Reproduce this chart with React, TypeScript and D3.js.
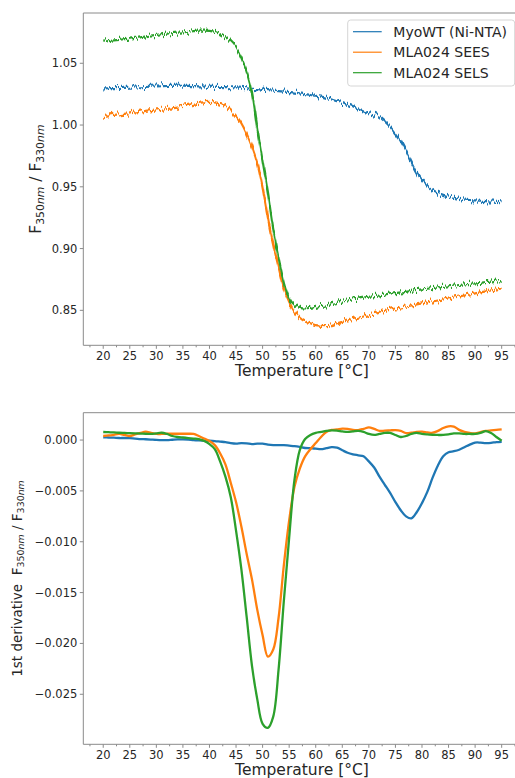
import React from "react";
import * as d3 from "d3";

// temperature grid [°C]
const temps = d3.range(20, 96, 1);

const seriesNames = ["MyoWT (Ni-NTA)", "MLA024 SEES", "MLA024 SELS"];
const colors = ["#1f77b4", "#ff7f0e", "#2ca02c"];

// F350/F330 ratio
const ratioMyoWT = [
  1.0297, 1.0298, 1.0299, 1.03, 1.0301, 1.0302, 1.0304, 1.0306, 1.0308, 1.031,
  1.0312, 1.0314, 1.0316, 1.0317, 1.0318, 1.0318, 1.0317, 1.0315, 1.0313, 1.0312,
  1.031, 1.0309, 1.0308, 1.0307, 1.0306, 1.0305, 1.0302, 1.0298, 1.0294, 1.029,
  1.0287, 1.0283, 1.0279, 1.0275, 1.0271, 1.0267, 1.0263, 1.0257, 1.025, 1.0243,
  1.0237, 1.023, 1.022, 1.0207, 1.0192, 1.0178, 1.0163, 1.0145, 1.0125, 1.011,
  1.0095, 1.0085, 1.0065, 1.003, 0.9986, 0.993, 0.987, 0.979, 0.97, 0.962,
  0.9555, 0.951, 0.9475, 0.9452, 0.9435, 0.9422, 0.941, 0.9403, 0.9397, 0.9393,
  0.939, 0.9387, 0.9384, 0.9381, 0.9378, 0.9375,
];
const ratioSEES = [
  1.0073, 1.0078, 1.0082, 1.0087, 1.0091, 1.0095, 1.0102, 1.0108, 1.0115, 1.0121,
  1.0127, 1.0132, 1.0138, 1.0143, 1.0149, 1.0155, 1.0163, 1.0172, 1.018, 1.0184,
  1.0187, 1.0183, 1.0172, 1.0152, 1.012, 1.0075, 1.0015, 0.993, 0.9824, 0.969,
  0.949, 0.925, 0.9035, 0.885, 0.868, 0.857, 0.849, 0.844, 0.841, 0.8395,
  0.838, 0.8375, 0.8372, 0.838, 0.8395, 0.8407, 0.8418, 0.843, 0.844, 0.845,
  0.846, 0.847, 0.848, 0.8495, 0.8505, 0.8515, 0.8523, 0.8531, 0.854, 0.8548,
  0.8556, 0.8564, 0.8572, 0.858, 0.8588, 0.8596, 0.8604, 0.8612, 0.862, 0.8629,
  0.8637, 0.8645, 0.8653, 0.8661, 0.8669, 0.8677,
];
const ratioSELS = [
  1.0675, 1.068, 1.0685, 1.069, 1.0695, 1.07, 1.0705, 1.071, 1.0718, 1.0725,
  1.073, 1.0735, 1.074, 1.0745, 1.0748, 1.075, 1.0755, 1.076, 1.0765, 1.0765,
  1.0763, 1.0755, 1.0735, 1.071, 1.068, 1.063, 1.0545, 1.043, 1.026, 0.997,
  0.971, 0.945, 0.916, 0.893, 0.873, 0.86, 0.8545, 0.852, 0.8515, 0.852,
  0.8528, 0.8535, 0.854, 0.855, 0.856, 0.857, 0.858, 0.8588, 0.8595, 0.8603,
  0.861, 0.8615, 0.862, 0.8628, 0.8635, 0.864, 0.8645, 0.865, 0.8658, 0.8665,
  0.867, 0.8675, 0.868, 0.8685, 0.869, 0.8695, 0.87, 0.8705, 0.871, 0.8715,
  0.8718, 0.8723, 0.8728, 0.8733, 0.874, 0.8745,
];

// 1st derivative of the ratio
const derivMyoWT = [
  0.00027, 0.00025, 0.00023, 0.0002, 0.0002, 0.00018, 0.00015, 0.0001, 0.00008, 0.00005,
  0.00002, 0.0, 0.0, 0.00003, 0.00006, 0.00007, 0.00005, 0.0, -0.00003, -0.00005,
  -0.00007, -0.0001, -0.00015, -0.0002, -0.0003, -0.00035, -0.0003, -0.00033, -0.0004, -0.00035,
  -0.00035, -0.00045, -0.0005, -0.0005, -0.0005, -0.00055, -0.0006, -0.00068, -0.00078, -0.0008,
  -0.00085, -0.0009, -0.0008, -0.0007, -0.00075, -0.001, -0.00125, -0.0014, -0.0015, -0.0016,
  -0.0021, -0.0027, -0.0036, -0.0044, -0.0052, -0.0061, -0.0069, -0.0075, -0.0077, -0.0071,
  -0.0062, -0.0051, -0.0037, -0.0025, -0.0016, -0.0012, -0.0011, -0.00095, -0.0007, -0.00045,
  -0.00025, -0.00025, -0.0003, -0.00028, -0.0002, -0.00017,
];
const derivSEES = [
  0.0004, 0.00045, 0.00052, 0.0006, 0.0005, 0.0004, 0.00055, 0.0007, 0.00082, 0.0007,
  0.0006, 0.0006, 0.00062, 0.00062, 0.00062, 0.00062, 0.00062, 0.0006, 0.0004, 0.00015,
  -0.0001, -0.0005, -0.0013, -0.0024, -0.0042, -0.0061, -0.0085, -0.0112, -0.0137, -0.0167,
  -0.0192, -0.0213, -0.0206, -0.0175, -0.0123, -0.0079, -0.0046, -0.0028, -0.0016, -0.0009,
  -0.0003, 0.0003, 0.0008, 0.001, 0.00105, 0.00113, 0.0011, 0.001, 0.00098, 0.0011,
  0.00125, 0.0011, 0.0009, 0.00092, 0.00095, 0.00098, 0.0009, 0.00068, 0.00072, 0.0008,
  0.00082, 0.00076, 0.00072, 0.0009, 0.00118, 0.00135, 0.00132, 0.001, 0.0008, 0.0007,
  0.00066, 0.00078, 0.0009, 0.00095, 0.001, 0.00105,
];
const derivSELS = [
  0.00079, 0.00077, 0.00075, 0.00072, 0.0007, 0.00068, 0.00066, 0.00064, 0.00062, 0.0006,
  0.00066, 0.00072, 0.0006, 0.0004, 0.0003, 0.00025, 0.0002, 0.00015, 0.0001, -0.0001,
  -0.0004, -0.0009, -0.0021, -0.0036, -0.0056, -0.0089, -0.0127, -0.0174, -0.0222, -0.0255,
  -0.0279, -0.0283, -0.0272, -0.0226, -0.0158, -0.0096, -0.0039, -0.001, 0.0001, 0.0005,
  0.0007, 0.0008, 0.0009, 0.00095, 0.00092, 0.00085, 0.0008, 0.00085, 0.0009, 0.0008,
  0.0006, 0.0005, 0.0006, 0.0007, 0.0007, 0.0005, 0.0003, 0.0004, 0.0006, 0.0007,
  0.0006, 0.00055, 0.00052, 0.0005, 0.0005, 0.00055, 0.00065, 0.00065, 0.0006, 0.0006,
  0.0006, 0.0007, 0.00088, 0.0007, 0.0003, -0.00007,
];

const xTickLabels = [20, 25, 30, 35, 40, 45, 50, 55, 60, 65, 70, 75, 80, 85, 90, 95];
const xMinorTicks = d3.range(17.5, 98.6, 5);
const ratioTicks = [0.85, 0.9, 0.95, 1.0, 1.05];
const derivTicks = [0.0, -0.005, -0.01, -0.015, -0.02, -0.025];

const W = 515;
const H = 778;
const FONT = "DejaVu Sans, sans-serif";
const SPINE = "#8a8a8a";
const TEXT = "#262626";

const x = d3.scaleLinear().domain([16.25, 98.75]).range([83.3, 521.6]);
const yTop = d3.scaleLinear().domain([0.8217, 1.0907]).range([345.3, 13]);
const yBot = d3.scaleLinear().domain([-0.02992, 0.00269]).range([744.3, 412.7]);

const fmtMinus = (s: string) => s.replace("-", "\u2212");

const Axes = ({ y, ticks, fmt, top, bottom }: any) => {
  const left = x.range()[0];
  const right = x.range()[1];
  return (
    <g>
      <line x1={left} x2={left} y1={top} y2={bottom} stroke={SPINE} strokeWidth={1} />
      <line x1={left} x2={right} y1={top} y2={top} stroke={SPINE} strokeWidth={1} />
      <line x1={left} x2={right} y1={bottom} y2={bottom} stroke={SPINE} strokeWidth={1} />
      <line x1={right} x2={right} y1={top} y2={bottom} stroke={SPINE} strokeWidth={1} />
      {xTickLabels.map((t) => (
        <g key={"xt" + t}>
          <line x1={x(t)} x2={x(t)} y1={bottom} y2={bottom + 3.5} stroke={SPINE} />
          <text x={x(t)} y={bottom + 15} textAnchor="middle" fontSize={11.5} fill={TEXT}>
            {t}
          </text>
        </g>
      ))}
      {xMinorTicks.map((t) => (
        <line key={"xm" + t} x1={x(t)} x2={x(t)} y1={bottom} y2={bottom + 2} stroke={SPINE} />
      ))}
      {ticks.map((t: number) => (
        <g key={"yt" + t}>
          <line x1={left - 3.5} x2={left} y1={y(t)} y2={y(t)} stroke={SPINE} />
          <text x={left - 6} y={y(t)} dy="0.35em" textAnchor="end" fontSize={11.5} fill={TEXT}>
            {fmt(t)}
          </text>
        </g>
      ))}
      <text
        x={(left + right) / 2 - 0.5}
        y={bottom + 31}
        textAnchor="middle"
        fontSize={15.5}
        fill={TEXT}
      >
        Temperature [°C]
      </text>
    </g>
  );
};

const RatioLabel = ({ prefix }: { prefix?: string }) => (
  <>
    {prefix}
    F<tspan baselineShift="-25%" fontSize="70%">350<tspan fontStyle="italic">nm</tspan></tspan>
    <tspan> / F</tspan>
    <tspan baselineShift="-25%" fontSize="70%">330<tspan fontStyle="italic">nm</tspan></tspan>
  </>
);

export default function App() {
  const topSeries = [ratioMyoWT, ratioSEES, ratioSELS];
  const botSeries = [derivMyoWT, derivSEES, derivSELS];

  const lineTop = d3
    .line<number>()
    .x((_, i) => x(temps[i]))
    .y((d) => yTop(d))
    .curve(d3.curveMonotoneX);
  const lineBot = d3
    .line<number>()
    .x((_, i) => x(temps[i]))
    .y((d) => yBot(d))
    .curve(d3.curveCatmullRom.alpha(0.5));

  return (
    <svg
      width={W}
      height={H}
      style={{ position: "absolute", left: 0, top: 0, background: "#fff" }}
      fontFamily={FONT}
    >
      <defs>
        {/* measurement noise look for the raw ratio traces */}
        <filter id="jitter" filterUnits="userSpaceOnUse" x={80} y={0} width={450} height={360}>
          <feTurbulence type="fractalNoise" baseFrequency="0.57 0.031" numOctaves={2} seed={11} result="noise" />
          <feColorMatrix
            in="noise"
            type="matrix"
            values="0 0 0 0 0.5  0 1 0 0 0  0 0 1 0 0  0 0 0 0 1"
            result="nmap"
          />
          <feDisplacementMap in="SourceGraphic" in2="nmap" scale={11} xChannelSelector="R" yChannelSelector="G" />
        </filter>
        <clipPath id="clipTop">
          <rect x={83.3} y={13} width={440} height={332.3} />
        </clipPath>
        <clipPath id="clipBot">
          <rect x={83.3} y={412.7} width={440} height={331.6} />
        </clipPath>
      </defs>

      {/* top panel: ratio */}
      <g clipPath="url(#clipTop)">
        <g filter="url(#jitter)">
          {topSeries.map((s, i) => (
            <path key={i} d={lineTop(s) || ""} fill="none" stroke={colors[i]} strokeWidth={2.2} />
          ))}
        </g>
      </g>
      <Axes y={yTop} ticks={ratioTicks} fmt={(v: number) => d3.format(".2f")(v)} top={13} bottom={345.3} />
      <text
        transform={`translate(41,${(13 + 345.3) / 2}) rotate(-90)`}
        textAnchor="middle"
        fontSize={15.5}
        fill={TEXT}
      >
        <RatioLabel />
      </text>

      {/* legend */}
      <g>
        <rect x={347.7} y={20} width={167} height={66} rx={3} fill="#fff" fillOpacity={0.8} stroke="#d6d6d6" />
        {seriesNames.map((n, i) => (
          <g key={n}>
            <line x1={353} x2={381.7} y1={31.7 + i * 20.5} y2={31.7 + i * 20.5} stroke={colors[i]} strokeWidth={1.2} />
            <text x={393.3} y={31.7 + i * 20.5} dy="0.35em" fontSize={14} fill={TEXT}>
              {n}
            </text>
          </g>
        ))}
      </g>

      {/* bottom panel: derivative */}
      <g clipPath="url(#clipBot)">
        {botSeries.map((s, i) => (
          <path key={i} d={lineBot(s) || ""} fill="none" stroke={colors[i]} strokeWidth={2.3} />
        ))}
      </g>
      <Axes
        y={yBot}
        ticks={derivTicks}
        fmt={(v: number) => fmtMinus(d3.format(".3f")(v))}
        top={412.7}
        bottom={744.3}
      />
      <text
        transform={`translate(22,${(412.7 + 744.3) / 2}) rotate(-90)`}
        textAnchor="middle"
        fontSize={13.5}
        fill={TEXT}
      >
        <RatioLabel prefix={"1st derivative\u00a0\u00a0"} />
      </text>
    </svg>
  );
}
